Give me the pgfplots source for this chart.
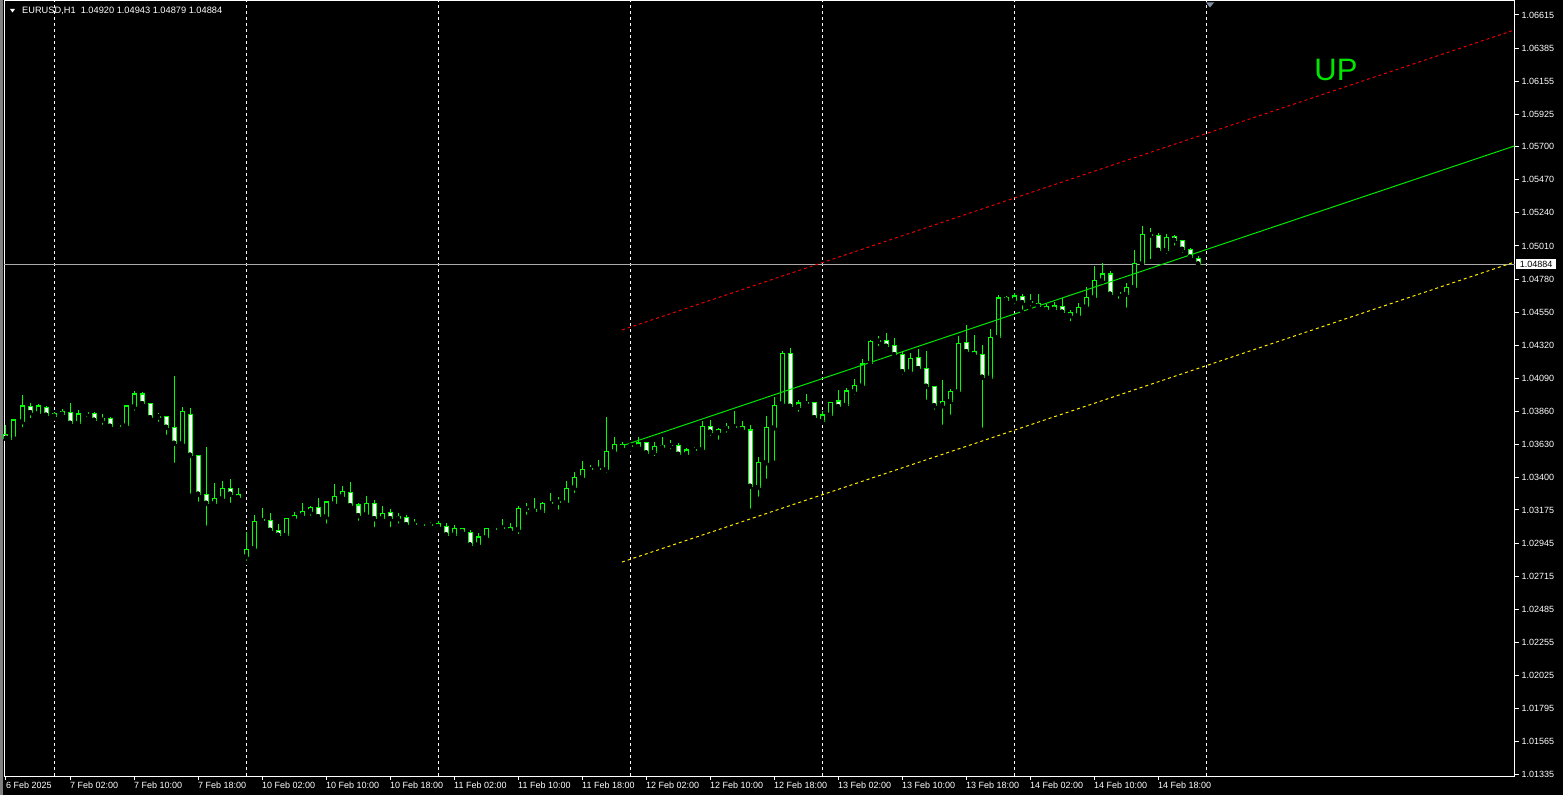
\documentclass[border=0pt]{standalone}
\usepackage{fontspec}
\setmainfont{Liberation Sans}
\usepackage{pgfplots}
\usepackage{pgfplotstable}
\pgfplotsset{compat=1.18}
\definecolor{candle}{RGB}{0,255,0}
\definecolor{upgreen}{RGB}{0,230,0}
\definecolor{pricegray}{RGB}{170,170,170}
\definecolor{chred}{RGB}{235,0,0}
\definecolor{chyellow}{RGB}{255,235,0}
\definecolor{chgreen}{RGB}{0,230,0}
\definecolor{shiftgray}{RGB}{128,144,160}
\definecolor{edgegray}{RGB}{128,128,128}
\newcommand{\lbl}{\fontsize{9}{10}\selectfont}
\newcommand{\hdr}{\fontsize{9.25}{10}\selectfont}

\pgfplotstableread{
i o h l c
-6 1.03701 1.03765 1.03668 1.03673
-5 1.03668 1.03807 1.03654 1.03800
-4 1.03788 1.03974 1.03737 1.03897
-3 1.03895 1.03918 1.03800 1.03851
-2 1.03844 1.03911 1.03835 1.03897
-1 1.03888 1.03895 1.03830 1.03833
0 1.03842 1.03854 1.03809 1.03826
1 1.03856 1.03876 1.03823 1.03840
2 1.03854 1.03918 1.03772 1.03777
3 1.03777 1.03870 1.03747 1.03842
4 1.03849 1.03863 1.03809 1.03845
5 1.03847 1.03856 1.03774 1.03798
6 1.03812 1.03842 1.03753 1.03798
7 1.03812 1.03823 1.03737 1.03756
8 1.03763 1.03779 1.03724 1.03758
9 1.03760 1.03906 1.03737 1.03897
10 1.03892 1.04004 1.03851 1.03981
11 1.03981 1.03995 1.03899 1.03913
12 1.03916 1.03916 1.03788 1.03816
13 1.03826 1.03849 1.03774 1.03821
14 1.03826 1.03826 1.03684 1.03749
15 1.03749 1.04106 1.03489 1.03638
16 1.03635 1.03888 1.03607 1.03860
17 1.03840 1.03883 1.03274 1.03555
18 1.03555 1.03555 1.03218 1.03284
19 1.03284 1.03612 1.03052 1.03221
20 1.03218 1.03362 1.03209 1.03256
21 1.03253 1.03376 1.03239 1.03325
22 1.03327 1.03390 1.03211 1.03284
23 1.03284 1.03327 1.03252 1.03260
24 1.02850 1.03024 1.02808 1.02901
25 1.02906 1.03140 1.02906 1.03096
26 1.03105 1.03190 1.03093 1.03100
27 1.03103 1.03154 1.03003 1.03033
28 1.03033 1.03077 1.02989 1.02999
29 1.02999 1.03117 1.02999 1.03117
30 1.03114 1.03161 1.03114 1.03138
31 1.03135 1.03223 1.03128 1.03165
32 1.03163 1.03202 1.03121 1.03195
33 1.03193 1.03258 1.03100 1.03128
34 1.03128 1.03237 1.03066 1.03230
35 1.03218 1.03355 1.03211 1.03270
36 1.03267 1.03341 1.03235 1.03304
37 1.03298 1.03367 1.03204 1.03204
38 1.03209 1.03223 1.03086 1.03135
39 1.03142 1.03272 1.03142 1.03221
40 1.03221 1.03244 1.03042 1.03114
41 1.03114 1.03202 1.03105 1.03151
42 1.03158 1.03179 1.03042 1.03114
43 1.03130 1.03154 1.03066 1.03114
44 1.03124 1.03138 1.03059 1.03072
45 1.03079 1.03112 1.03047 1.03075
46 1.03075 1.03093 1.03047 1.03070
47 1.03072 1.03093 1.03047 1.03068
48 1.03082 1.03100 1.03040 1.03059
49 1.03061 1.03082 1.02980 1.03001
50 1.03001 1.03068 1.02994 1.03049
51 1.03047 1.03047 1.03001 1.03024
52 1.03019 1.03036 1.02919 1.02931
53 1.02933 1.03012 1.02919 1.02987
54 1.02982 1.03047 1.02973 1.03047
55 1.03042 1.03063 1.03024 1.03047
56 1.03049 1.03112 1.03035 1.03054
57 1.03054 1.03082 1.03008 1.03031
58 1.03038 1.03202 1.02994 1.03186
59 1.03181 1.03221 1.03128 1.03186
60 1.03179 1.03258 1.03140 1.03165
61 1.03161 1.03230 1.03154 1.03221
62 1.03218 1.03291 1.03202 1.03223
63 1.03228 1.03263 1.03163 1.03232
64 1.03225 1.03376 1.03216 1.03325
65 1.03329 1.03439 1.03279 1.03402
66 1.03399 1.03515 1.03390 1.03457
67 1.03455 1.03487 1.03434 1.03460
68 1.03457 1.03522 1.03448 1.03461
69 1.03455 1.03821 1.03420 1.03582
70 1.03580 1.03680 1.03580 1.03631
71 1.03631 1.03648 1.03588 1.03609
72 1.03624 1.03641 1.03595 1.03619
73 1.03614 1.03680 1.03595 1.03640
74 1.03645 1.03645 1.03564 1.03571
75 1.03576 1.03648 1.03536 1.03614
76 1.03607 1.03683 1.03599 1.03624
77 1.03624 1.03661 1.03584 1.03622
78 1.03624 1.03638 1.03557 1.03561
79 1.03559 1.03603 1.03543 1.03592
80 1.03589 1.03610 1.03564 1.03594
81 1.03594 1.03795 1.03584 1.03756
82 1.03756 1.03800 1.03677 1.03715
83 1.03712 1.03744 1.03649 1.03737
84 1.03740 1.03777 1.03698 1.03756
85 1.03751 1.03863 1.03735 1.03756
86 1.03756 1.03793 1.03726 1.03733
87 1.03731 1.03763 1.03170 1.03339
88 1.03332 1.03543 1.03253 1.03506
89 1.03503 1.03828 1.03378 1.03749
90 1.03746 1.03960 1.03503 1.03902
91 1.03913 1.04280 1.03904 1.04264
92 1.04264 1.04300 1.03870 1.03895
93 1.03890 1.03939 1.03844 1.03918
94 1.03918 1.03981 1.03881 1.03913
95 1.03923 1.03923 1.03805 1.03816
96 1.03791 1.03863 1.03791 1.03835
97 1.03835 1.03923 1.03828 1.03923
98 1.03932 1.04009 1.03879 1.03892
99 1.03902 1.04022 1.03870 1.04002
100 1.03997 1.04085 1.03962 1.04041
101 1.04038 1.04224 1.04031 1.04189
102 1.04194 1.04356 1.04187 1.04347
103 1.04351 1.04384 1.04300 1.04347
104 1.04351 1.04405 1.04277 1.04312
105 1.04319 1.04370 1.04224 1.04254
106 1.04257 1.04273 1.04101 1.04136
107 1.04136 1.04266 1.04106 1.04229
108 1.04236 1.04294 1.04136 1.04157
109 1.04159 1.04280 1.03927 1.04034
110 1.04034 1.04034 1.03858 1.03899
111 1.03899 1.04078 1.03753 1.03930
112 1.03930 1.04013 1.03823 1.04000
113 1.03997 1.04384 1.03997 1.04333
114 1.04337 1.04460 1.04247 1.04275
115 1.04277 1.04391 1.04254 1.04254
116 1.04257 1.04321 1.03733 1.04097
117 1.04092 1.04430 1.04087 1.04375
118 1.04375 1.04669 1.04351 1.04648
119 1.04648 1.04662 1.04613 1.04634
120 1.04629 1.04681 1.04592 1.04662
121 1.04660 1.04676 1.04553 1.04615
122 1.04620 1.04676 1.04576 1.04615
123 1.04608 1.04676 1.04581 1.04590
124 1.04590 1.04608 1.04539 1.04567
125 1.04569 1.04618 1.04542 1.04592
126 1.04590 1.04646 1.04542 1.04549
127 1.04549 1.04565 1.04472 1.04525
128 1.04525 1.04611 1.04518 1.04583
129 1.04587 1.04722 1.04578 1.04653
130 1.04650 1.04870 1.04634 1.04771
131 1.04768 1.04889 1.04759 1.04815
132 1.04815 1.04836 1.04643 1.04674
133 1.04683 1.04699 1.04629 1.04678
134 1.04674 1.04752 1.04567 1.04722
135 1.04720 1.04982 1.04713 1.04886
136 1.04886 1.05148 1.04875 1.05091
137 1.05091 1.05134 1.04905 1.05086
138 1.05084 1.05102 1.04979 1.04979
139 1.04979 1.05093 1.04942 1.05070
140 1.05077 1.05088 1.04998 1.05049
141 1.05049 1.05049 1.04949 1.04986
142 1.04986 1.04993 1.04917 1.04931
143 1.04920 1.04943 1.04879 1.04884
}\candles

\begin{document}
\begin{tikzpicture}
\path[use as bounding box] (-4.5pt,-19pt) rectangle (1558.5pt,776pt);
\fill[black] (-4.5pt,-19pt) rectangle (1558.5pt,776pt);
\fill[edgegray] (-4.5pt,-19pt) rectangle (-1.5pt,776pt);
\begin{axis}[
  at={(0pt,0pt)}, anchor=south west,
  scale only axis, width=1510pt, height=775pt,
  xmin=-6.1875, xmax=182.5625,
  ymin=1.0132605, ymax=1.067123,
  clip=false,
  axis line style={draw=white, line width=1pt},
  xtick pos=left, ytick pos=right,
  tick align=outside,
  major tick length=4pt,
  tick style={draw=white, line width=1pt},
  xtick={-6,2,10,...,138},
  xticklabels={6 Feb 2025, 7 Feb 02:00, 7 Feb 10:00, 7 Feb 18:00, 10 Feb 02:00, 10 Feb 10:00, 10 Feb 18:00, 11 Feb 02:00, 11 Feb 10:00, 11 Feb 18:00, 12 Feb 02:00, 12 Feb 10:00, 12 Feb 18:00, 13 Feb 02:00, 13 Feb 10:00, 13 Feb 18:00, 14 Feb 02:00, 14 Feb 10:00, 14 Feb 18:00},
  xticklabel style={text=white, font=\lbl, anchor=north west, inner sep=0pt, yshift=-2pt},
  ytick={1.01335,1.01565,1.01795,1.02025,1.02255,1.02485,1.02715,1.02945,1.03175,1.03400,1.03630,1.03860,1.04090,1.04320,1.04550,1.04780,1.05010,1.05240,1.05470,1.05700,1.05925,1.06155,1.06385,1.06615},
  yticklabels={1.01335,1.01565,1.01795,1.02025,1.02255,1.02485,1.02715,1.02945,1.03175,1.03400,1.03630,1.03860,1.04090,1.04320,1.04550,1.04780,1.05010,1.05240,1.05470,1.05700,1.05925,1.06155,1.06385,1.06615},
  yticklabel style={text=white, font=\lbl, anchor=west, inner sep=0pt, xshift=3pt},
  extra x ticks={0,24,48,72,96,120,144},
  extra x tick labels={},
  extra x tick style={grid=major, major tick length=0pt, major grid style={draw=white, line width=1pt, dash pattern=on 3pt off 3pt}},
]
% current price line
\addplot[pricegray, line width=1pt] coordinates {(-6.1875,1.04884) (182.5625,1.04884)};
% wicks
\addplot[only marks, mark=none, error bars/.cd, y dir=plus, y explicit, error mark=none,
  error bar style={draw=candle, line width=1pt}]
  table[x=i, y=l, y error plus expr={\thisrow{h}-\thisrow{l}}] {\candles};
% body outlines
\addplot[only marks, mark=none, error bars/.cd, y dir=plus, y explicit, error mark=none,
  error bar style={draw=candle, line width=5pt}]
  table[x=i, y expr={min(\thisrow{o},\thisrow{c})-0.00004}, y error plus expr={abs(\thisrow{c}-\thisrow{o})+0.00008}] {\candles};
% bear fill (white)
\addplot[only marks, mark=none, error bars/.cd, y dir=plus, y explicit, error mark=none,
  error bar style={draw=white, line width=3pt}]
  table[x=i, y expr={min(\thisrow{o},\thisrow{c})+0.00004}, y error plus expr={(\thisrow{o}>\thisrow{c})*max(abs(\thisrow{c}-\thisrow{o})-0.00008,0)}] {\candles};
% bull fill (black)
\addplot[only marks, mark=none, error bars/.cd, y dir=plus, y explicit, error mark=none,
  error bar style={draw=black, line width=3pt}]
  table[x=i, y expr={min(\thisrow{o},\thisrow{c})+0.00004}, y error plus expr={(\thisrow{c}>\thisrow{o})*max(abs(\thisrow{c}-\thisrow{o})-0.00008,0)}] {\candles};
% channel
\addplot[chred, line width=1pt, dash pattern=on 3pt off 3pt] coordinates {(71,1.04426) (182.5625,1.06511)};
\addplot[chgreen, line width=1pt] coordinates {(71,1.03620) (182.5625,1.05705)};
\addplot[chyellow, line width=1pt, dash pattern=on 3pt off 3pt] coordinates {(71,1.02813) (182.5625,1.04898)};
% texts
\node[text=upgreen, font=\fontsize{31}{31}\selectfont, inner sep=0pt] at (axis cs:160.25,1.06231) {UP};
\node[anchor=base west, text=white, font=\hdr, inner sep=0pt, xshift=17.5pt, yshift=-13pt] at (axis cs:-6.1875,1.067123) {EURUSD,H1\ \ 1.04920 1.04943 1.04879 1.04884};
\fill[white] (axis cs:-6.1875,1.067123) ++(5.5pt,-8pt) -- ++(5pt,0pt) -- ++(-2.5pt,-3.5pt) -- cycle;
\fill[shiftgray] (axis cs:144.5,1.067123) ++(-4pt,-1.5pt) -- ++(8pt,0pt) -- ++(-4pt,-5pt) -- cycle;
\node[fill=white, text=black, font=\lbl, anchor=west, inner sep=0pt, minimum height=10pt, minimum width=40pt, xshift=1.5pt] at (axis cs:182.5625,1.04884) {1.04884};
\end{axis}
\end{tikzpicture}
\end{document}
